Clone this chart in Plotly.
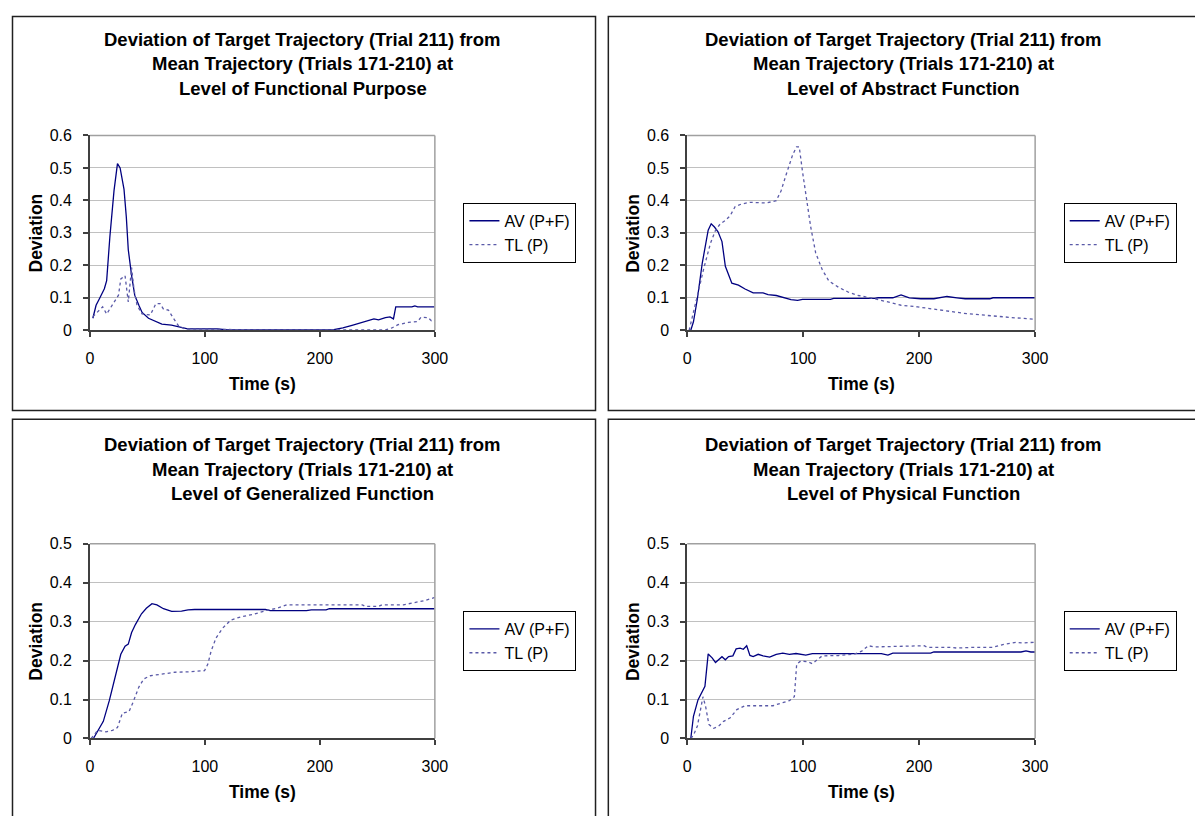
"""
Deviation of target trajectory from mean trajectory, four abstraction levels
"""
import plotly.graph_objects as go

# ---- data ----
# Level of Functional Purpose
fp_av_t = [2.6, 5.4, 8.3, 12.6, 14.6, 17.4, 21, 24, 26.3, 29.7, 31.7, 33.4, 36.3, 39, 42.6, 45.4,
           51, 57, 62.6, 71, 75.4, 81, 85, 111, 120, 211, 220, 228, 234, 240, 242.6, 247, 251,
           257, 261, 264, 266, 280, 282.6, 285, 300]
fp_av_v = [0.037, 0.077, 0.097, 0.128, 0.153, 0.288, 0.43, 0.513, 0.50, 0.434, 0.349, 0.248, 0.168,
           0.108, 0.077, 0.055, 0.037, 0.027, 0.019, 0.016, 0.012, 0.007, 0.004, 0.004, 0.001, 0.001,
           0.007, 0.015, 0.022, 0.029, 0.03, 0.035, 0.032, 0.039, 0.041, 0.035, 0.072, 0.072, 0.075,
           0.072, 0.072]
fp_tl_t = [2.6, 6.9, 11.1, 14.6, 18.3, 22.6, 24.9, 26.9, 30.6, 33.4, 36.3, 38.3, 41, 45.4, 52.6,
           57.4, 61, 64, 68.3, 72.6, 77, 82.6, 150, 257, 262.6, 268, 277, 285, 288, 294, 297, 300]
fp_tl_v = [0.042, 0.057, 0.072, 0.05, 0.072, 0.097, 0.108, 0.158, 0.168, 0.087, 0.193, 0.128, 0.077,
           0.05, 0.047, 0.082, 0.082, 0.065, 0.062, 0.037, 0.014, 0.004, 0.001, 0.001, 0.007, 0.017,
           0.024, 0.027, 0.04, 0.039, 0.029, 0.03]

# Level of Abstract Function
af_av_t = [3.1, 5.4, 8.8, 13, 18.1, 20.7, 23.5, 26.6, 30, 32.9, 38.5, 44.2, 49.9, 56.9, 65.4, 69.7,
           76.8, 83.9, 89.5, 95.2, 99.4, 123.5, 126.3, 161.8, 164.6, 177.3, 184.4, 191.5, 201.4,
           212.7, 217, 224, 232.6, 239.7, 261, 263.7, 300]
af_av_v = [0, 0.026, 0.097, 0.207, 0.308, 0.328, 0.318, 0.303, 0.273, 0.197, 0.145, 0.139, 0.127,
           0.115, 0.115, 0.11, 0.107, 0.099, 0.094, 0.092, 0.095, 0.095, 0.098, 0.098, 0.1, 0.1,
           0.109, 0.1, 0.097, 0.097, 0.1, 0.104, 0.1, 0.097, 0.097, 0.1, 0.1]
af_tl_t = [1.7, 4.5, 8.8, 14.4, 20.1, 24.4, 28.6, 32.9, 37.1, 41.4, 47, 54.1, 68.3, 76.8, 80.9, 85.3,
           90.9, 94.3, 96.6, 99.4, 103.7, 106.5, 110.8, 116.4, 122.1, 130.6, 139.1, 147.6, 161.8,
           173.1, 184.4, 198.6, 212.7, 226.9, 241.1, 255.2, 269.4, 283.6, 300]
af_tl_v = [0, 0.046, 0.107, 0.192, 0.268, 0.308, 0.328, 0.338, 0.353, 0.381, 0.389, 0.394, 0.392,
           0.399, 0.429, 0.479, 0.54, 0.565, 0.565, 0.489, 0.389, 0.318, 0.238, 0.187, 0.152, 0.132,
           0.117, 0.107, 0.097, 0.087, 0.077, 0.072, 0.066, 0.058, 0.051, 0.046, 0.041, 0.038, 0.034]

# Level of Generalized Function
gf_av_t = [3.1, 6.9, 11.7, 16.9, 21.1, 24, 26.9, 30.6, 33.4, 36.3, 39.7, 44.9, 49.1, 54, 58.3, 64,
           71.1, 79.7, 85.4, 91.1, 152.6, 156.9, 188.3, 192.6, 205.4, 208.3, 300]
gf_av_v = [0, 0.019, 0.044, 0.097, 0.149, 0.182, 0.216, 0.237, 0.242, 0.272, 0.293, 0.32, 0.334,
           0.346, 0.343, 0.333, 0.326, 0.327, 0.33, 0.331, 0.331, 0.328, 0.328, 0.33, 0.33, 0.333, 0.333]
gf_tl_t = [1.1, 6.9, 14, 19.7, 24, 28.3, 34, 37.7, 42.6, 46.9, 52.6, 62.6, 74, 85.4, 95.4, 99.7, 102.6,
           105.4, 109.7, 115.4, 122.6, 131.1, 142.6, 154, 162.6, 171.1, 236.9, 239.7, 251.1, 254,
           272.6, 279.7, 291.1, 300]
gf_tl_v = [0, 0.021, 0.017, 0.021, 0.028, 0.065, 0.069, 0.094, 0.132, 0.153, 0.161, 0.166, 0.17,
           0.171, 0.174, 0.174, 0.191, 0.224, 0.258, 0.283, 0.304, 0.312, 0.319, 0.329, 0.334, 0.343,
           0.343, 0.339, 0.339, 0.343, 0.343, 0.347, 0.354, 0.362]

# Level of Physical Function
pf_av_t = [3.1, 5.4, 9.3, 15.3, 18.1, 21.5, 24.4, 27.2, 30, 32.9, 35.7, 39.4, 42.2, 45.6, 48.4, 51.3,
           54.1, 56.9, 61.2, 65.4, 71.1, 76.8, 82.4, 88.1, 93.8, 102.3, 107.9, 167.4, 173.1, 177.3,
           209.9, 212.7, 287.8, 292.1, 296.3, 300]
pf_av_v = [0, 0.057, 0.099, 0.134, 0.217, 0.207, 0.195, 0.203, 0.21, 0.202, 0.21, 0.212, 0.23, 0.232,
           0.229, 0.238, 0.213, 0.21, 0.216, 0.212, 0.209, 0.216, 0.219, 0.216, 0.218, 0.214, 0.218,
           0.218, 0.214, 0.219, 0.219, 0.222, 0.222, 0.225, 0.222, 0.222]
pf_tl_t = [3.1, 5.4, 8.8, 11.6, 13.6, 15.9, 18.7, 22.9, 27.2, 31.4, 37.1, 42.8, 49.9, 59.8, 74, 82.4,
           88.1, 92.4, 94.4, 98, 103.7, 107.9, 112.2, 116.4, 130.6, 144.8, 150.5, 156.1, 161.8,
           204.3, 207.1, 226.9, 232.6, 246.7, 263.7, 272.2, 283.6, 289.2, 300]
pf_tl_v = [0, 0.008, 0.032, 0.082, 0.107, 0.082, 0.036, 0.026, 0.032, 0.044, 0.053, 0.074, 0.084,
           0.084, 0.084, 0.092, 0.097, 0.107, 0.191, 0.199, 0.197, 0.192, 0.201, 0.212, 0.213, 0.217,
           0.224, 0.238, 0.235, 0.238, 0.234, 0.234, 0.232, 0.234, 0.234, 0.241, 0.247, 0.245, 0.247]

levels = ["Functional Purpose", "Abstract Function", "Generalized Function", "Physical Function"]
x_ticks = [0, 100, 200, 300]

# page is 1203x824; the html body keeps an 8px margin, so the figure is 16px smaller
PAGE_W, PAGE_H, OFF = 1203, 824, 8
W, H = PAGE_W - 2 * OFF, PAGE_H - 2 * OFF
FONT = "Liberation Sans, Arial, sans-serif"
AV_COLOR = "#000080"
TL_COLOR = "#5a5aa8"


def px(x):
    return (x - OFF) / W


def py(y):
    return 1 - (y - OFF) / H


# page-pixel layout of each panel: frame, plot area
panels = [
    dict(frame=(8.5, 8.5, 600, 411), plot=(87, 130, 437, 329), ymax=0.6,
         av=(fp_av_t, fp_av_v), tl=(fp_tl_t, fp_tl_v)),
    dict(frame=(613, 8.5, 1212, 411), plot=(693, 130, 1046, 329), ymax=0.6,
         av=(af_av_t, af_av_v), tl=(af_tl_t, af_tl_v)),
    dict(frame=(8.5, 420, 600, 840), plot=(87, 547, 437, 746), ymax=0.5,
         av=(gf_av_t, gf_av_v), tl=(gf_tl_t, gf_tl_v)),
    dict(frame=(613, 420, 1212, 840), plot=(693, 547, 1046, 746), ymax=0.5,
         av=(pf_av_t, pf_av_v), tl=(pf_tl_t, pf_tl_v)),
]

fig = go.Figure()
shapes = []
annotations = []

for i, p in enumerate(panels):
    n = "" if i == 0 else str(i + 1)
    xa, ya = "x" + n, "y" + n
    lg = "legend" + n
    l, t, r, b = p["plot"]
    fl, ft, fr, fb = p["frame"]

    fig.add_trace(go.Scatter(
        x=p["av"][0], y=p["av"][1], name="AV (P+F)", mode="lines",
        line=dict(color=AV_COLOR, width=1.3), xaxis=xa, yaxis=ya, legend=lg
    ))
    fig.add_trace(go.Scatter(
        x=p["tl"][0], y=p["tl"][1], name="TL (P)", mode="lines",
        line=dict(color=TL_COLOR, width=1.3, dash="dot"), xaxis=xa, yaxis=ya, legend=lg
    ))

    axis_common = dict(
        showline=True, linecolor="#404040", linewidth=1.5,
        ticks="outside", ticklen=5, tickcolor="#404040", tickwidth=1.5,
        tickfont=dict(family=FONT, size=16, color="black"),
        zeroline=False, fixedrange=True,
    )
    fig.update_layout({
        "xaxis" + n: dict(
            domain=[px(l), px(r)], anchor=ya, range=[0, 300],
            tickvals=x_ticks, showgrid=False, ticklabelstandoff=8, **axis_common
        ),
        "yaxis" + n: dict(
            domain=[py(b), py(t)], anchor=xa, range=[0, p["ymax"]], dtick=0.1,
            showgrid=True, gridcolor="#c0c0c0", gridwidth=1, ticklabelstandoff=8,
            **axis_common
        ),
        # legend sits centred on the plot height, like the spreadsheet original
        lg: dict(
            x=px(r + 29), y=py((t + b) / 2), xanchor="left", yanchor="middle",
            bordercolor="black", borderwidth=1, bgcolor="white",
            entrywidth=83, entrywidthmode="pixels",
            font=dict(family=FONT, size=16, color="black"), tracegroupgap=0,
        ),
    })

    # gray top/right border of the plot area
    shapes.append(dict(type="line", xref=xa + " domain", yref=ya + " domain",
                       x0=0, x1=1, y0=1, y1=1, line=dict(color="#a0a0a0", width=1.5)))
    shapes.append(dict(type="line", xref=xa + " domain", yref=ya + " domain",
                       x0=1, x1=1, y0=0, y1=1, line=dict(color="#a0a0a0", width=1.5)))
    # chart frame
    shapes.append(dict(type="rect", xref="paper", yref="paper",
                       x0=px(fl), x1=px(fr), y0=py(fb), y1=py(ft),
                       line=dict(color="#202020", width=1.5)))

    # title, three lines, centred on the chart frame
    cx = (6 + 600) / 2 if fl < 300 else (613 + 1212) / 2
    top = 6 if ft < 300 else 420
    lines = ["Deviation of Target Trajectory (Trial 211) from",
             "Mean Trajectory (Trials 171-210) at",
             "Level of " + levels[i]]
    for k, txt in enumerate(lines):
        annotations.append(dict(
            text="<b>" + txt + "</b>", xref="paper", yref="paper",
            x=px(cx), y=py(top + 26 + 25 * k), xanchor="center", yanchor="middle",
            showarrow=False, font=dict(family=FONT, size=18.5, color="black")
        ))
    # axis titles
    annotations.append(dict(
        text="<b>Time (s)</b>", xref="paper", yref="paper",
        x=px((l + r) / 2), y=py(b + 55), xanchor="center", yanchor="middle",
        showarrow=False, font=dict(family=FONT, size=17.5, color="black")
    ))
    annotations.append(dict(
        text="<b>Deviation</b>", xref="paper", yref="paper", textangle=-90,
        x=px(l - 55), y=py((t + b) / 2), xanchor="center", yanchor="middle",
        showarrow=False, font=dict(family=FONT, size=17.5, color="black")
    ))

fig.update_layout(
    width=W, height=H,
    margin=dict(l=0, r=0, t=0, b=0),
    paper_bgcolor="white", plot_bgcolor="white",
    shapes=shapes, annotations=annotations,
    font=dict(family=FONT, color="black"),
)

fig.write_html("out.html", config={"displayModeBar": False})
